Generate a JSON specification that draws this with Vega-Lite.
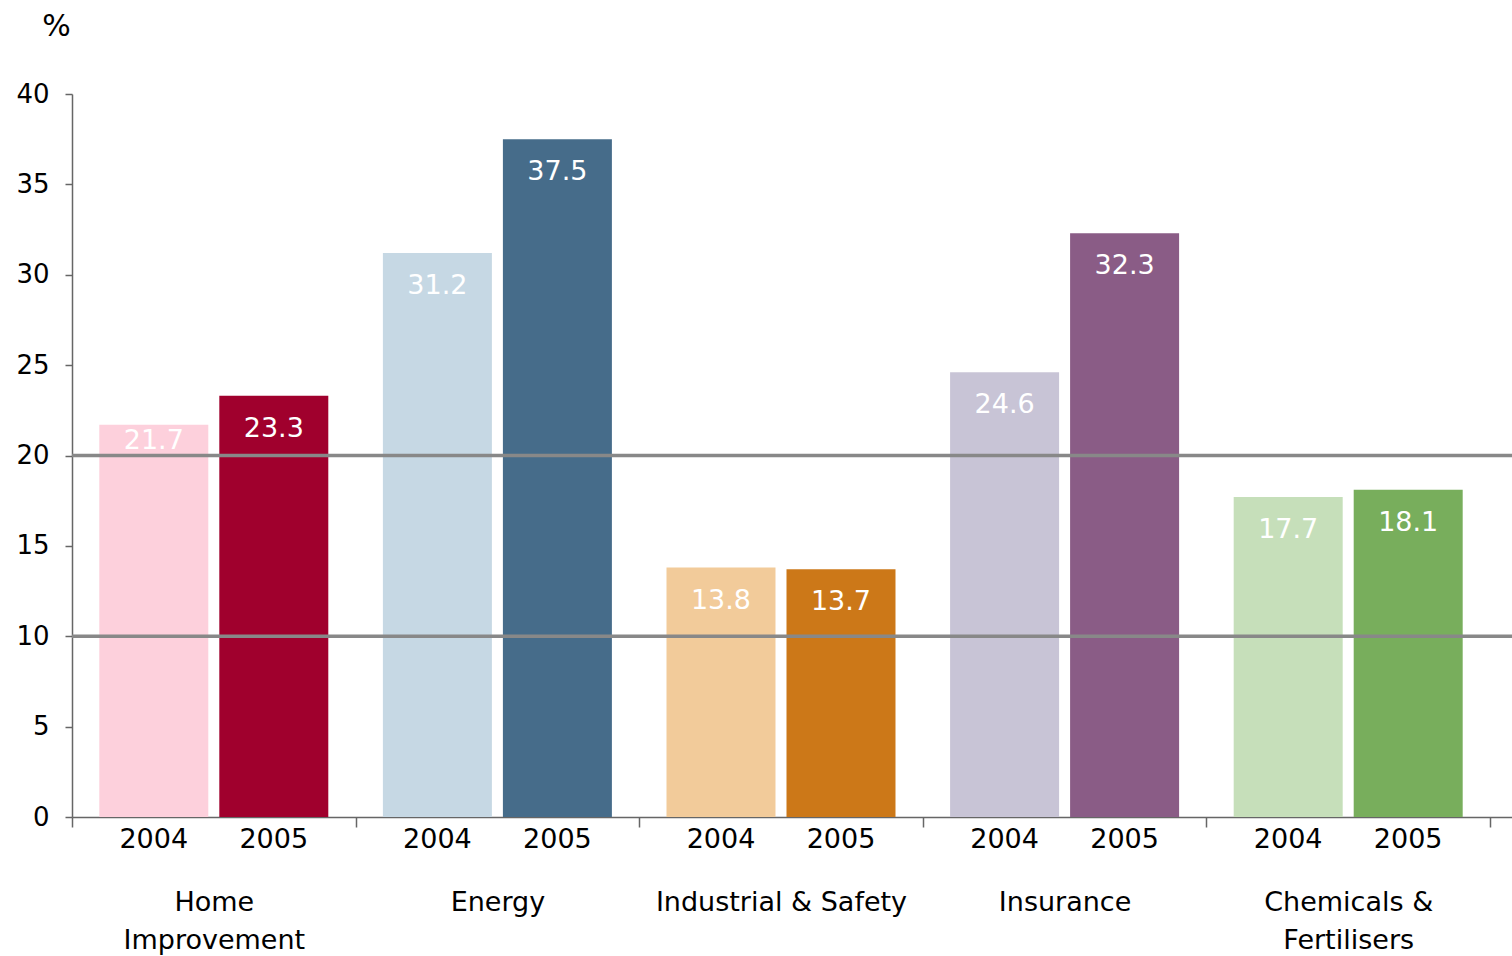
{
  "$schema": "https://vega.github.io/schema/vega-lite/v6.json",
  "autosize": {"type": "none"},
  "padding": {"left": 72, "top": 94, "right": 0, "bottom": 139},
  "width": 1440,
  "height": 723,
  "background": "white",
  "config": {
    "view": {"stroke": null},
    "font": "DejaVu Sans"
  },
  "data": {
    "values": [
      {"group": "Home Improvement", "year": "2004", "key": "HI-2004", "value": 21.7},
      {"group": "Home Improvement", "year": "2005", "key": "HI-2005", "value": 23.3},
      {"group": "Energy", "year": "2004", "key": "EN-2004", "value": 31.2},
      {"group": "Energy", "year": "2005", "key": "EN-2005", "value": 37.5},
      {"group": "Industrial & Safety", "year": "2004", "key": "IS-2004", "value": 13.8},
      {"group": "Industrial & Safety", "year": "2005", "key": "IS-2005", "value": 13.7},
      {"group": "Insurance", "year": "2004", "key": "IN-2004", "value": 24.6},
      {"group": "Insurance", "year": "2005", "key": "IN-2005", "value": 32.3},
      {"group": "Chemicals & Fertilisers", "year": "2004", "key": "CF-2004", "value": 17.7},
      {"group": "Chemicals & Fertilisers", "year": "2005", "key": "CF-2005", "value": 18.1}
    ]
  },
  "encoding": {
    "x": {
      "field": "group",
      "type": "nominal",
      "sort": null,
      "scale": {"paddingInner": 0, "paddingOuter": 0.0388, "align": 0},
      "axis": {
        "title": null,
        "labelAngle": 0,
        "labelFontSize": 27,
        "labelColor": "black",
        "labelFont": "DejaVu Sans",
        "labelBaseline": "top",
        "labelLineHeight": 38,
        "labelPadding": 62,
        "labelLimit": 0,
        "labelExpr": "datum.value == 'Home Improvement' ? ['Home', 'Improvement'] : datum.value == 'Chemicals & Fertilisers' ? ['Chemicals &', 'Fertilisers'] : datum.value",
        "tickBand": "extent",
        "tickSize": 10,
        "tickColor": "#666666",
        "tickWidth": 1.5,
        "domainColor": "#666666",
        "domainWidth": 1.5
      }
    },
    "xOffset": {
      "field": "year",
      "type": "nominal",
      "scale": {"paddingInner": 0.0917, "paddingOuter": 0.2275}
    }
  },
  "layer": [
    {
      "mark": {"type": "bar"},
      "encoding": {
        "y": {
          "field": "value",
          "type": "quantitative",
          "scale": {"domain": [0, 40], "nice": false},
          "axis": {
            "values": [0, 5, 10, 15, 20, 25, 30, 35, 40],
            "grid": false,
            "title": "%",
            "titleAngle": 0,
            "titleFontSize": 30,
            "titleFontWeight": "normal",
            "titleColor": "black",
            "titleAlign": "center",
            "titleBaseline": "middle",
            "titleX": -16,
            "titleY": -68,
            "labelFontSize": 26,
            "labelColor": "black",
            "labelPadding": 16,
            "tickSize": 7,
            "tickColor": "#666666",
            "tickWidth": 1.5,
            "domainColor": "#666666",
            "domainWidth": 1.5
          }
        },
        "color": {
          "field": "key",
          "type": "nominal",
          "legend": null,
          "scale": {
            "domain": ["HI-2004", "HI-2005", "EN-2004", "EN-2005", "IS-2004", "IS-2005", "IN-2004", "IN-2005", "CF-2004", "CF-2005"],
            "range": ["#FDD0DC", "#A0002D", "#C6D8E4", "#466C8A", "#F2CB9A", "#CC7818", "#C8C4D6", "#8A5C86", "#C6DFBA", "#78AE5C"]
          }
        }
      }
    },
    {
      "data": {"values": [{"ref": 10}, {"ref": 20}]},
      "mark": {"type": "rule", "color": "#888888", "strokeWidth": 3.5},
      "encoding": {
        "x": null,
        "xOffset": null,
        "y": {"field": "ref", "type": "quantitative"}
      }
    },
    {
      "transform": [{"filter": "datum.key != 'HI-2004'"}],
      "mark": {"type": "text", "baseline": "top", "dy": 20, "fontSize": 27, "font": "DejaVu Sans", "color": "white"},
      "encoding": {
        "y": {"field": "value", "type": "quantitative"},
        "text": {"field": "value", "type": "quantitative", "format": ".1f"}
      }
    },
    {
      "transform": [{"filter": "datum.key == 'HI-2004'"}],
      "mark": {"type": "text", "baseline": "top", "dy": 3, "fontSize": 27, "font": "DejaVu Sans", "color": "white"},
      "encoding": {
        "y": {"field": "value", "type": "quantitative"},
        "text": {"field": "value", "type": "quantitative", "format": ".1f"}
      }
    },
    {
      "mark": {"type": "text", "baseline": "top", "dy": 10, "fontSize": 27, "font": "DejaVu Sans", "color": "black"},
      "encoding": {
        "y": {"datum": 0},
        "text": {"field": "year", "type": "nominal"}
      }
    }
  ]
}
